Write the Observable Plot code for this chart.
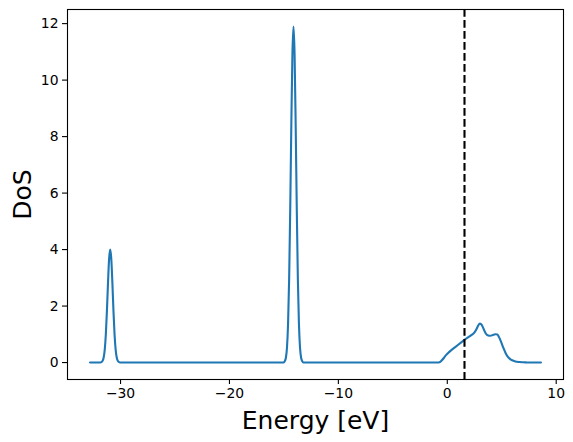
<!DOCTYPE html>
<html>
<head>
<meta charset="utf-8">
<script src="https://cdn.jsdelivr.net/npm/d3@7"></script>
<script src="https://cdn.jsdelivr.net/npm/@observablehq/plot@0.6"></script>
<style>
  body { margin: 0; background: #fff; }
  svg { font-family: "DejaVu Sans", sans-serif; }
</style>
</head>
<body>
<div id="chart"></div>
<script>
// Energy grid (eV) and density of states
const energy = [
  -32.8, -31.85,
  -31.75, -31.65, -31.55, -31.45, -31.35, -31.25, -31.15, -31.05, -30.95,
  -30.85, -30.75, -30.65, -30.55, -30.45, -30.35, -30.25, -30.15, -30.05,
  -15.02,
  -14.92, -14.82, -14.72, -14.62, -14.52, -14.42, -14.32, -14.22, -14.12,
  -14.02, -13.92, -13.82, -13.72, -13.62, -13.52, -13.42, -13.32, -13.22,
  -0.8, -0.65, -0.5, -0.3, -0.1, 0.1, 0.4, 0.7, 1.0, 1.3, 1.6, 1.9, 2.2, 2.5,
  2.7, 2.85, 3.0, 3.15, 3.35, 3.55, 3.75, 3.95, 4.15, 4.4, 4.6, 4.75, 4.95,
  5.15, 5.35, 5.55, 5.75, 5.95, 6.25, 6.6, 7.0, 7.5, 8.6
];
const dos = [
  0, 0,
  0.02, 0.06, 0.18, 0.46, 1.0, 1.83, 2.83, 3.67, 4.0,
  3.67, 2.83, 1.83, 1.0, 0.46, 0.18, 0.06, 0.02, 0,
  0,
  0.05, 0.17, 0.52, 1.36, 2.96, 5.45, 8.41, 10.91, 11.9,
  10.91, 8.41, 5.45, 2.96, 1.36, 0.52, 0.17, 0.05, 0,
  0, 0.02, 0.08, 0.17, 0.27, 0.35, 0.45, 0.54, 0.63, 0.72, 0.81, 0.89, 0.97, 1.07,
  1.2, 1.32, 1.38, 1.34, 1.18, 1.02, 0.96, 0.95, 0.97, 1.0, 0.99, 0.9, 0.72,
  0.52, 0.34, 0.21, 0.13, 0.08, 0.04, 0.02, 0.01, 0, 0
];
const fermiLevel = [1.58];
const xTicks = [-30, -20, -10, 0, 10];
const yTicks = [0, 2, 4, 6, 8, 10, 12];
const xLabel = "Energy [eV]";
const yLabel = "DoS";

const data = energy.map((e, i) => ({energy: e, dos: dos[i]}));

const chart = Plot.plot({
  width: 573,
  height: 442,
  marginLeft: 67,
  marginRight: 10,
  marginTop: 9,
  marginBottom: 63,
  style: {fontFamily: "DejaVu Sans, sans-serif", fontSize: "13.9px", color: "black", background: "white"},
  x: {domain: [-34.87, 10.67]},
  y: {domain: [-0.6, 12.5]},
  marks: [
    Plot.line(data, {x: "energy", y: "dos", stroke: "#1f77b4", strokeWidth: 2.1, curve: "monotone-x"}),
    Plot.ruleX(fermiLevel, {stroke: "black", strokeWidth: 2.1, strokeDasharray: "7.7,3.3"}),
    Plot.frame({stroke: "black", strokeWidth: 1.1}),
    Plot.axisX(xTicks, {tickSize: 5, tickPadding: 4, strokeWidth: 1.1, label: null, fontSize: 13.9}),
    Plot.axisY(yTicks, {tickSize: 5, tickPadding: 4, strokeWidth: 1.1, label: null, fontSize: 13.9}),
    Plot.text([xLabel], {frameAnchor: "bottom", dy: 32, lineAnchor: "top", fontSize: 25, fill: "black"}),
    Plot.text([yLabel], {frameAnchor: "left", dx: -44.5, rotate: -90, textAnchor: "middle", lineAnchor: "middle", fontSize: 25, fill: "black"})
  ]
});
document.getElementById("chart").appendChild(chart);
</script>
</body>
</html>
